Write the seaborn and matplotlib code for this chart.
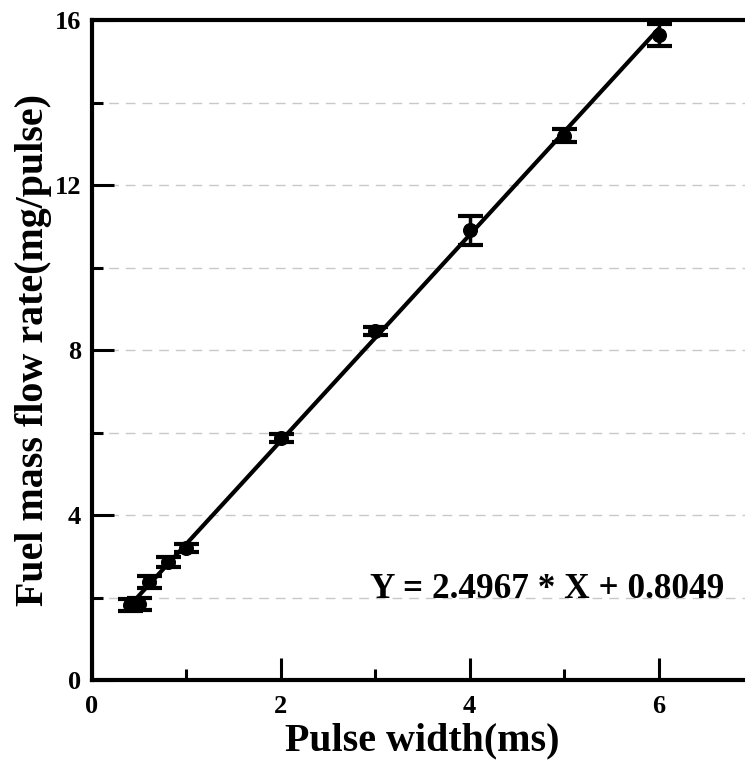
import matplotlib
matplotlib.use("Agg")
import matplotlib.pyplot as plt
import seaborn as sns
import numpy as np
import pandas as pd
from matplotlib.ticker import MultipleLocator

# Data
pulse_width = [0.4, 0.5, 0.6, 0.8, 1.0, 2.0, 3.0, 4.0, 5.0, 6.0]
flow_rate = [1.82, 1.84, 2.38, 2.86, 3.20, 5.87, 8.46, 10.90, 13.20, 15.64]
flow_err = [0.15, 0.15, 0.15, 0.12, 0.10, 0.10, 0.10, 0.35, 0.15, 0.27]
fit_slope = 2.4967
fit_intercept = 0.8049
fit_x = [0.4, 6.0]
equation = "Y = 2.4967 * X + 0.8049"

sns.set_theme(style="white")
plt.rcParams['font.family'] = ['Liberation Serif', 'DejaVu Serif']
plt.rcParams['font.weight'] = 'bold'
plt.rcParams['text.color'] = 'black'
plt.rcParams['axes.labelcolor'] = 'black'
plt.rcParams['xtick.color'] = 'black'
plt.rcParams['ytick.color'] = 'black'

df = pd.DataFrame({"x": pulse_width, "y": flow_rate, "err": flow_err})
fit_df = pd.DataFrame({"x": fit_x, "y": [fit_slope * v + fit_intercept for v in fit_x]})

W, H = 745, 760
fig = plt.figure(figsize=(W / 100, H / 100), dpi=100)
left, right, top, bottom = 92, 753, 20, 680
ax = fig.add_axes([left / W, 1 - bottom / H, (right - left) / W, (bottom - top) / H])

# grid lines
for gy in range(2, 16, 2):
    ax.axhline(gy, color="#c8c8c8", lw=1.0, dashes=(7, 5), zorder=0)

sns.lineplot(data=fit_df, x="x", y="y", ax=ax, color="black", lw=3, zorder=2)
ax.errorbar(df["x"], df["y"], yerr=df["err"], fmt="none", ecolor="black",
            elinewidth=2.5, capsize=9, capthick=3, zorder=3)
sns.scatterplot(data=df, x="x", y="y", ax=ax, color="black", s=100,
                edgecolor="black", zorder=4)

ax.set_xlim(0, 7)
ax.set_ylim(0, 16)
ax.xaxis.set_major_locator(MultipleLocator(2))
ax.xaxis.set_minor_locator(MultipleLocator(1))
ax.yaxis.set_major_locator(MultipleLocator(4))
ax.yaxis.set_minor_locator(MultipleLocator(2))
ax.tick_params(which="major", direction="in", length=16, width=2.2,
               labelsize=19, color="black")
ax.tick_params(axis="x", which="major", pad=11)
ax.tick_params(axis="y", which="major", pad=8)
ax.tick_params(which="minor", direction="in", length=8, width=2.2, color="black")
ax.tick_params(axis="both", which="both", bottom=True, left=True, top=False, right=False)
for lab in ax.get_xticklabels() + ax.get_yticklabels():
    lab.set_fontweight("bold")

for s in ["left", "bottom", "top"]:
    ax.spines[s].set_visible(True)
    ax.spines[s].set_color("black")
    ax.spines[s].set_linewidth(3)
ax.spines["right"].set_visible(False)

ax.set_xlabel("Pulse width(ms)", fontsize=29, fontweight="bold", labelpad=3)
ax.set_ylabel("Fuel mass flow rate(mg/pulse)", fontsize=29, fontweight="bold", labelpad=2)

eq = ax.text(4.82, 2.0, equation, fontsize=27, fontweight="bold",
             ha="center", va="baseline", color="black")

# fit text widths to the reference proportions
fig.canvas.draw()
r = fig.canvas.get_renderer()
xl = ax.xaxis.label
yl = ax.yaxis.label
xl.set_fontsize(xl.get_fontsize() * 275 / xl.get_window_extent(r).width)
yl.set_fontsize(yl.get_fontsize() * 512 / yl.get_window_extent(r).height)
eq.set_fontsize(eq.get_fontsize() * 354 / eq.get_window_extent(r).width)

fig.savefig("out.png", dpi=100)
